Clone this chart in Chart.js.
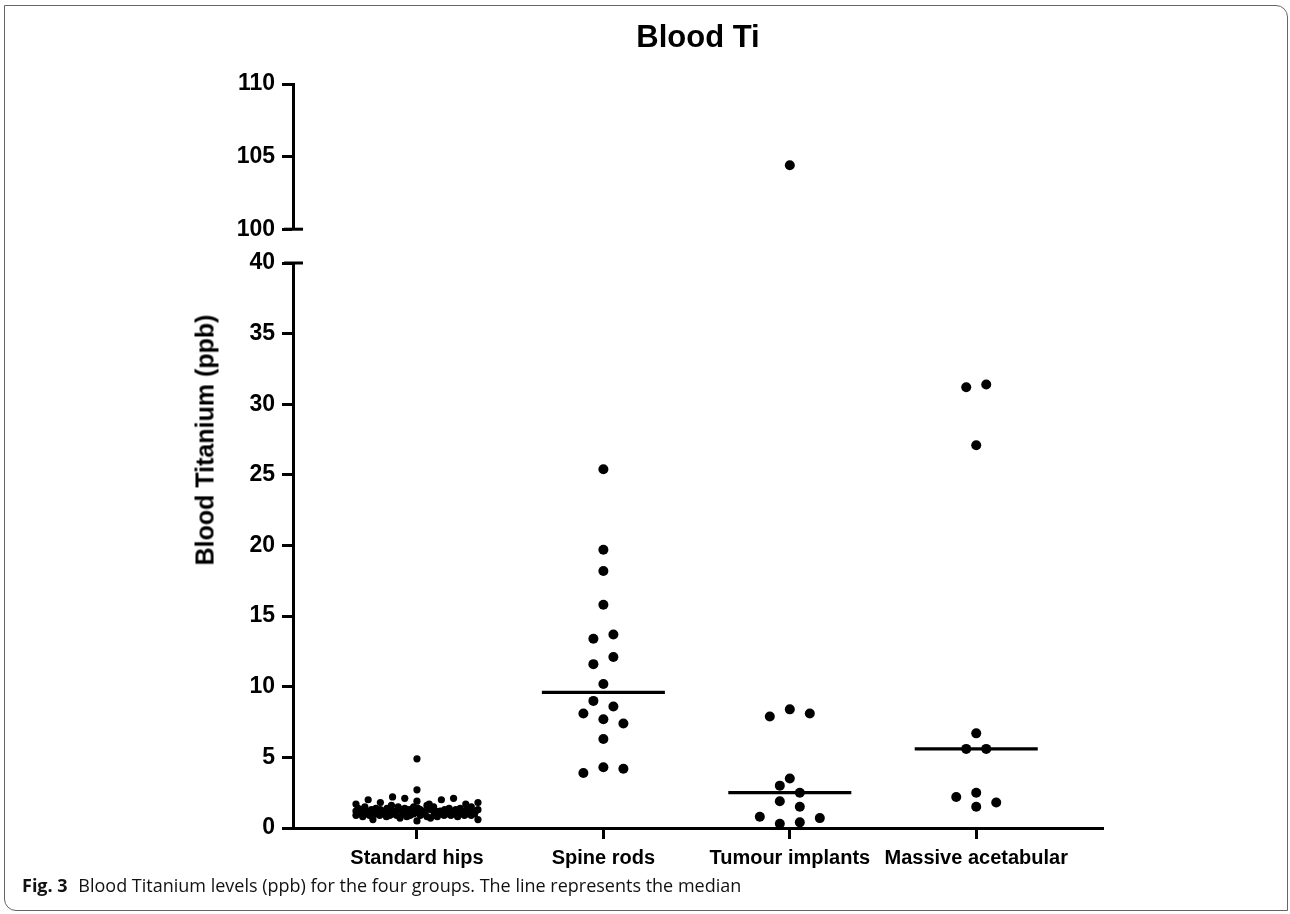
<!DOCTYPE html>
<html>
<head>
<meta charset="utf-8">
<script src="https://cdn.jsdelivr.net/npm/chart.js@4.4.1/dist/chart.umd.min.js"></script>
<style>
  html, body { margin: 0; padding: 0; background: #fff; }
  #page { position: relative; width: 1290px; height: 914px; overflow: hidden; }
  #frame { position: absolute; left: 4px; top: 5px; width: 1282px; height: 904px;
           border: 1.5px solid #666; border-radius: 0 12px 0 12px; }
  canvas { position: absolute; left: 0; top: 0; }
  #ytitle { position: absolute; left: 205px; top: 440px; transform: translate(-50%, -50%) rotate(-90deg);
            font: bold 25px "Liberation Sans", Arial, sans-serif; white-space: nowrap; color: #000; }
  #caption { position: absolute; left: 22px; top: 873px; font: 18px "Open Sans", sans-serif; color: #111; white-space: nowrap; }
  #caption b { margin-right: 6px; }
</style>
</head>
<body>
<div id="page">
  <div id="frame"></div>
  <canvas id="lower" width="1290" height="914"></canvas>
  <canvas id="upper" width="1290" height="250"></canvas>
  <div id="ytitle">Blood Titanium (ppb)</div>
  <div id="caption"><b>Fig. 3</b> Blood Titanium levels (ppb) for the four groups. The line represents the median</div>
</div>
<script>
// groupes et valeurs (ppb)
const categories = ['Standard hips', 'Spine rods', 'Tumour implants', 'Massive acetabular'];

const standardHips = [1.2, 0.9, 1.4, 1.1, 1.0, 1.3, 0.8, 1.5, 1.2, 1.0, 1.7, 0.9, 1.1, 1.3, 2.0, 1.2, 0.6, 1.4, 1.0, 1.1,
  0.9, 1.3, 1.8, 1.2, 1.0, 2.2, 1.1, 0.8, 1.4, 1.3, 0.9, 1.6, 1.2, 1.0, 2.7, 1.1, 1.5, 0.9, 1.3, 1.2,
  0.7, 2.1, 1.0, 1.4, 1.1, 0.8, 1.9, 1.3, 0.9, 1.2, 4.9, 1.0, 1.5, 1.1, 1.4, 0.5, 1.7, 1.3, 0.9, 2.0,
  1.2, 1.1, 1.6, 1.0, 0.8, 1.4, 2.1, 1.3, 0.7, 1.7, 1.5, 1.2, 1.1, 0.9, 0.8, 1.8,
  1.0, 1.2, 0.9, 1.1, 1.3, 1.0, 1.2, 1.4, 0.9, 1.1, 1.0, 1.2, 1.3, 0.8, 1.1, 1.0, 1.4, 1.2, 0.9, 1.1,
  1.3, 1.0, 1.2, 1.5, 0.9, 1.1, 1.0, 1.2, 0.6, 1.3];
const spineRods = [25.4, 19.7, 18.2, 15.8, 13.4, 13.7, 11.6, 12.1, 10.2, 9.0, 8.6, 8.1, 7.7, 7.4, 6.3, 3.9, 4.3, 4.2];
const tumourImplants = [104.4, 7.9, 8.4, 8.1, 3.5, 3.0, 2.5, 1.9, 1.5, 0.8, 0.3, 0.4, 0.7];
const massiveAcetabular = [31.2, 31.4, 27.1, 6.7, 5.6, 5.6, 2.2, 2.5, 1.5, 1.8];

const groups = [standardHips, spineRods, tumourImplants, massiveAcetabular];

// axe Y coupé en deux segments
const lowerRange = [0, 40];
const upperRange = [100, 110];
const tickStep = 5;
const xRange = [-0.665, 3.68];

const FONT = '"Liberation Sans", Arial, sans-serif';

function median(arr) {
  const s = arr.slice().sort((a, b) => a - b);
  const m = Math.floor(s.length / 2);
  return s.length % 2 ? s[m] : (s[m - 1] + s[m]) / 2;
}

// disposition "à la Prism" : rangées de points, écart réduit si la rangée est trop large
function buildSwarm(chart, values, catIndex, dotR, maxHalfPx) {
  const xs = chart.scales.x, ys = chart.scales.y;
  const cx = xs.getPixelForValue(catIndex);
  const order = values.map((v, i) => i).sort((a, b) => values[a] - values[b]);
  const rows = [];
  let row = null, rowStartPx = 0;
  order.forEach(i => {
    const py = ys.getPixelForValue(values[i]);
    if (row && rowStartPx - py < 2 * dotR) {
      row.push(i);
    } else {
      row = [i];
      rows.push(row);
      rowStartPx = py;
    }
  });
  const pts = [];
  rows.forEach(r => {
    r.sort((a, b) => a - b); // garder l'ordre de saisie
    const n = r.length;
    const gap = n > 1 ? Math.min(4 * dotR, 2 * maxHalfPx / (n - 1)) : 0;
    r.forEach((i, j) => pts.push({ x: xs.getValueForPixel(cx + (j - (n - 1) / 2) * gap), y: values[i] }));
  });
  return pts;
}

// trait de coupure de l'axe
const axisBreak = {
  id: 'axisBreak',
  afterDraw(chart, args, opts) {
    const ys = chart.scales.y;
    const py = ys.getPixelForValue(opts.value);
    const ctx = chart.ctx;
    ctx.save();
    ctx.strokeStyle = '#000';
    ctx.lineWidth = 3;
    ctx.beginPath();
    ctx.moveTo(ys.right - 9, py);
    ctx.lineTo(ys.right + 10, py);
    ctx.stroke();
    ctx.restore();
  }
};

function yScale(range) {
  return {
    type: 'linear',
    min: range[0],
    max: range[1],
    afterFit: s => { s.width = 110; },
    border: { display: true, color: '#000', width: 3 },
    grid: { drawOnChartArea: false, drawTicks: true, tickLength: 11, tickWidth: 3, color: '#000' },
    ticks: { stepSize: tickStep, color: '#000', padding: 7, font: { family: FONT, size: 23, weight: 'bold' } }
  };
}

function scatterSets() {
  return groups.map((g, i) => ({
    type: 'scatter',
    label: categories[i],
    data: [],
    backgroundColor: '#000',
    borderWidth: 0,
    pointRadius: i === 0 ? 3.6 : 5,
    pointHoverRadius: i === 0 ? 3.6 : 5,
    clip: false,
    order: 1
  }));
}

const medianSets = groups.map((g, i) => {
  const m = median(g);
  return {
    type: 'line',
    label: 'median ' + categories[i],
    data: [{ x: i - 0.33, y: m }, { x: i + 0.33, y: m }],
    borderColor: '#000',
    borderWidth: 3.3,
    pointRadius: 0,
    showLine: true,
    order: 2
  };
});

const lowerChart = new Chart(document.getElementById('lower'), {
  type: 'scatter',
  data: { datasets: [...medianSets, ...scatterSets()] },
  options: {
    responsive: false,
    animation: false,
    layout: { padding: { left: 183, right: 187, top: 263, bottom: 36 } },
    plugins: { legend: { display: false }, tooltip: { enabled: false }, axisBreak: { value: lowerRange[1] } },
    scales: {
      x: {
        type: 'linear',
        min: xRange[0],
        max: xRange[1],
        afterFit: s => { s.height = 50; },
        afterBuildTicks: s => { s.ticks = categories.map((c, i) => ({ value: i })); },
        border: { display: true, color: '#000', width: 3 },
        grid: { drawOnChartArea: false, drawTicks: true, tickLength: 11, tickWidth: 3, color: '#000' },
        ticks: {
          color: '#000', padding: 7, maxRotation: 0, autoSkip: false,
          font: { family: FONT, size: 20, weight: 'bold' },
          callback: v => categories[v]
        }
      },
      y: yScale(lowerRange)
    }
  },
  plugins: [axisBreak]
});

const upperChart = new Chart(document.getElementById('upper'), {
  type: 'scatter',
  data: { datasets: scatterSets() },
  options: {
    responsive: false,
    animation: false,
    layout: { padding: { left: 183, right: 187, top: 0, bottom: 15 } },
    plugins: {
      legend: { display: false },
      tooltip: { enabled: false },
      axisBreak: { value: upperRange[0] },
      title: {
        display: true,
        fullSize: false,
        text: 'Blood Ti',
        color: '#000',
        font: { family: FONT, size: 31, weight: 'bold', lineHeight: 1.2 },
        padding: { top: 20, bottom: 26.8 }
      }
    },
    scales: {
      x: { type: 'linear', display: false, min: xRange[0], max: xRange[1] },
      y: yScale(upperRange)
    }
  },
  plugins: [axisBreak]
});

// répartir chaque groupe entre les deux segments puis placer les points
groups.forEach((g, i) => {
  const low = g.filter(v => v <= lowerRange[1]);
  const high = g.filter(v => v >= upperRange[0]);
  const r = i === 0 ? 3.6 : 5;
  lowerChart.data.datasets[groups.length + i].data = buildSwarm(lowerChart, low, i, r, 61);
  upperChart.data.datasets[i].data = buildSwarm(upperChart, high, i, r, 61);
});
lowerChart.update('none');
upperChart.update('none');
</script>
</body>
</html>
